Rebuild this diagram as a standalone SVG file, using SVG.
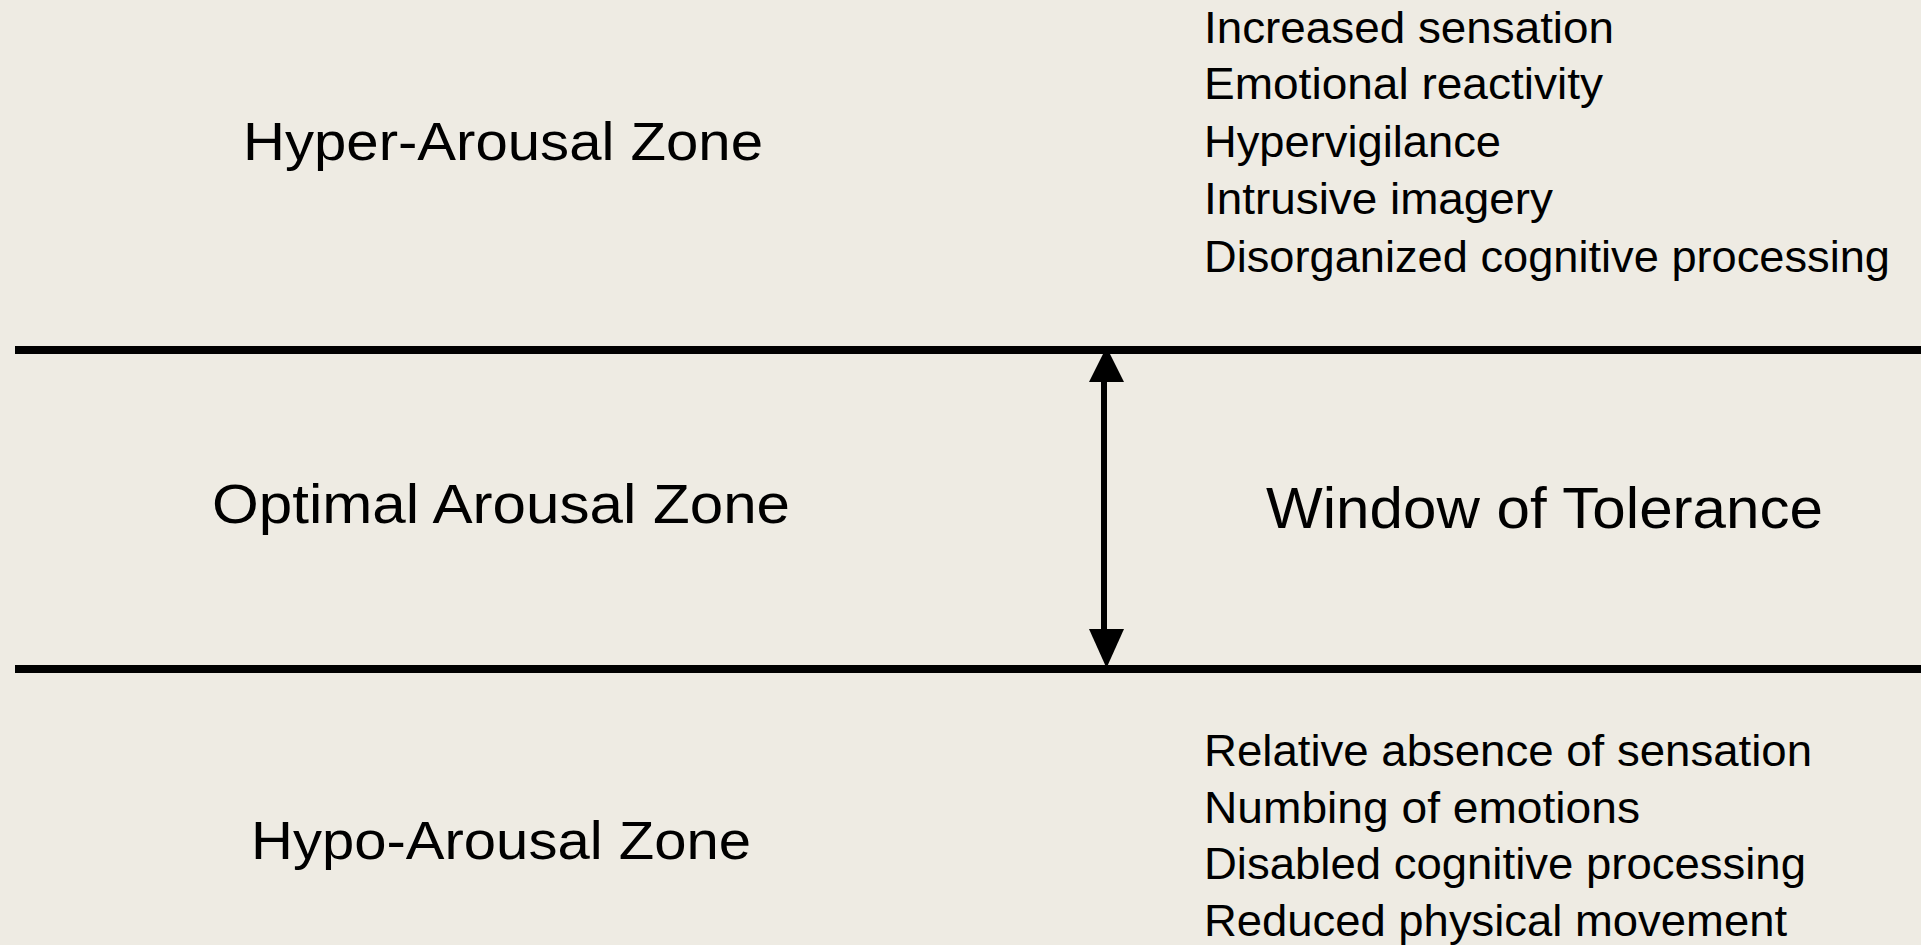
<svg xmlns="http://www.w3.org/2000/svg" width="1921" height="945" viewBox="0 0 1921 945">
<style>
text{font-family:"Liberation Sans",Arial,sans-serif;fill:#000}
.small{font-size:44px}
.line{stroke:#000;stroke-width:8}
</style>
<rect x="0" y="0" width="1921" height="945" fill="#EEEBE3"/>
<g id="hyper-zone">
<text x="243" y="160" font-size="53" textLength="520" lengthAdjust="spacingAndGlyphs">Hyper-Arousal Zone</text>
</g>
<g id="hyper-symptoms">
<text class="small" x="1204" y="43" textLength="410" lengthAdjust="spacingAndGlyphs">Increased sensation</text>
<text class="small" x="1204" y="99" textLength="399" lengthAdjust="spacingAndGlyphs">Emotional reactivity</text>
<text class="small" x="1204" y="157" textLength="297" lengthAdjust="spacingAndGlyphs">Hypervigilance</text>
<text class="small" x="1204" y="214" textLength="349" lengthAdjust="spacingAndGlyphs">Intrusive imagery</text>
<text class="small" x="1204" y="272" textLength="686" lengthAdjust="spacingAndGlyphs">Disorganized cognitive processing</text>
</g>
<g id="optimal-zone">
<text x="212" y="523" font-size="56" textLength="578" lengthAdjust="spacingAndGlyphs">Optimal Arousal Zone</text>
</g>
<g id="window">
<text x="1266" y="528" font-size="58" textLength="557" lengthAdjust="spacingAndGlyphs">Window of Tolerance</text>
</g>
<g id="hypo-zone">
<text x="251" y="859" font-size="53" textLength="500" lengthAdjust="spacingAndGlyphs">Hypo-Arousal Zone</text>
</g>
<g id="hypo-symptoms">
<text class="small" x="1204" y="766" textLength="608" lengthAdjust="spacingAndGlyphs">Relative absence of sensation</text>
<text class="small" x="1204" y="823" textLength="436" lengthAdjust="spacingAndGlyphs">Numbing of emotions</text>
<text class="small" x="1204" y="879" textLength="602" lengthAdjust="spacingAndGlyphs">Disabled cognitive processing</text>
<text class="small" x="1204" y="936" textLength="583" lengthAdjust="spacingAndGlyphs">Reduced physical movement</text>
</g>
<g id="connectors">
<line class="line" x1="15" y1="350" x2="1921" y2="350"/>
<line class="line" x1="15" y1="669" x2="1921" y2="669"/>
<rect x="1101" y="380" width="6" height="251" fill="#000"/>
<polygon points="1106.5,347 1089,382 1124,382" fill="#000"/>
<polygon points="1089,629 1124,629 1106.5,668" fill="#000"/>
</g>
</svg>
